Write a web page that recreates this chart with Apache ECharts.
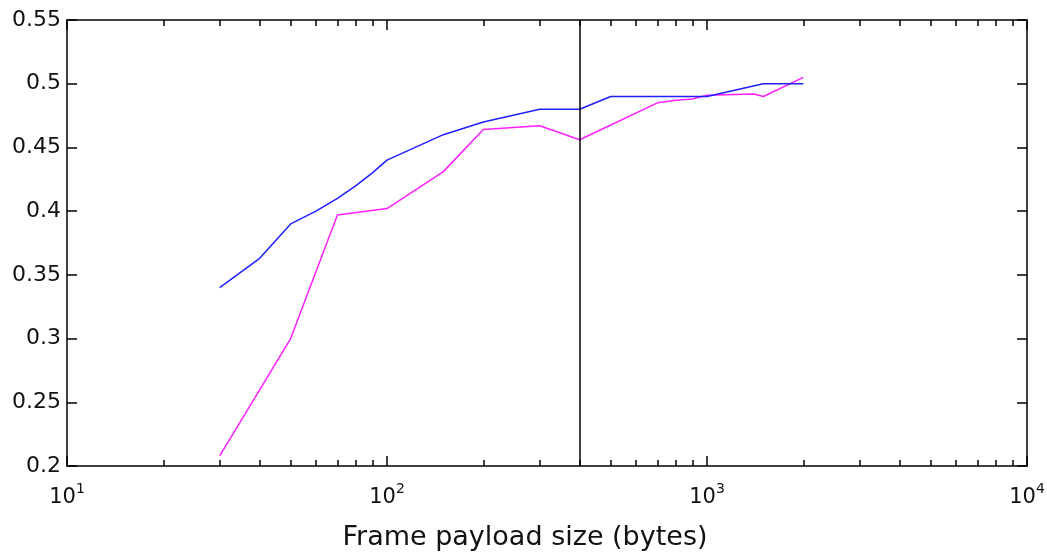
<!DOCTYPE html>
<html>
<head>
<meta charset="utf-8">
<script src="https://cdn.jsdelivr.net/npm/echarts@6/dist/echarts.min.js"></script>
<style>html,body{margin:0;padding:0;background:#fff}#c{width:1047px;height:552px}</style>
</head>
<body>
<div id="c"></div>
<script>
// ---- data ----
var blueX = [30, 40, 50, 60, 70, 80, 90, 100, 150, 200, 300, 400, 500, 1000, 1500, 2000];
var blueY = [0.34, 0.363, 0.39, 0.40, 0.41, 0.42, 0.43, 0.44, 0.46, 0.47, 0.48, 0.48, 0.49, 0.49, 0.50, 0.50];
var magentaX = [30, 50, 70, 100, 150, 200, 300, 400, 700, 800, 900, 1000, 1400, 1500, 2000];
var magentaY = [0.208, 0.30, 0.397, 0.402, 0.431, 0.464, 0.467, 0.456, 0.485, 0.487, 0.488, 0.491, 0.492, 0.49, 0.505];
var markerX = [400];
var xMajorTicks = [10, 100, 1000, 10000];
var xMinorTicks = [20, 30, 40, 50, 60, 70, 80, 90, 200, 300, 400, 500, 600, 700, 800, 900, 2000, 3000, 4000, 5000, 6000, 7000, 8000, 9000];
var yTicks = [0.2, 0.25, 0.3, 0.35, 0.4, 0.45, 0.5, 0.55];
var xName = 'Frame payload size (bytes)';

function zip(xs, ys) { return xs.map(function (x, i) { return [x, ys[i]]; }); }

var FONT = 'DejaVu Sans';
var chart = echarts.init(document.getElementById('c'), null, { renderer: 'canvas' });

function xAxisBase(pos, tickLen, custom, showLine) {
  return {
    type: 'log', logBase: 10, min: 10, max: 10000, position: pos,
    axisLine: { show: showLine, onZero: false, lineStyle: { color: '#000', width: 1.5 } },
    axisTick: { show: true, inside: true, length: tickLen, customValues: custom, lineStyle: { color: '#000', width: 1.5 } },
    axisLabel: { show: false },
    splitLine: { show: false },
    minorTick: { show: false }, minorSplitLine: { show: false }
  };
}

var xBottom = xAxisBase('bottom', 10, xMajorTicks, true);
xBottom.axisLabel = {
  show: true, margin: 16, customValues: xMajorTicks,
  formatter: function (v) {
    var e = Math.round(Math.log10(v));
    return '{b|10}{s|' + e + '}';
  },
  rich: {
    b: { fontFamily: FONT, fontSize: 21, color: '#111', lineHeight: 26, verticalAlign: 'bottom' },
    s: { fontFamily: FONT, fontSize: 14, color: '#111', lineHeight: 14, verticalAlign: 'top' }
  }
};
xBottom.name = xName;
xBottom.nameLocation = 'middle';
xBottom.nameGap = 58;
xBottom.nameTextStyle = { fontFamily: FONT, fontSize: 27, color: '#111', padding: [0, 44, 0, 0] };

var xTop = xAxisBase('top', 10, xMajorTicks, true);
var xBottomMinor = xAxisBase('bottom', 6, xMinorTicks, false);
var xTopMinor = xAxisBase('top', 6, xMinorTicks, false);

function yAxisBase(pos, showLabel) {
  return {
    type: 'value', min: 0.2, max: 0.55, interval: 0.05, position: pos,
    axisLine: { show: true, onZero: false, lineStyle: { color: '#000', width: 1.5 } },
    axisTick: { show: true, inside: true, length: 10, lineStyle: { color: '#000', width: 1.5 } },
    axisLabel: {
      show: showLabel, margin: 6, fontFamily: FONT, fontSize: 22, color: '#111',
      formatter: function (v) { return String(+v.toFixed(2)); }
    },
    splitLine: { show: false }
  };
}

chart.setOption({
  animation: false,
  backgroundColor: '#fff',
  grid: { left: 67, right: 20, top: 20, bottom: 86, containLabel: false, outerBoundsMode: 'none' },
  xAxis: [xBottom, xTop, xBottomMinor, xTopMinor],
  yAxis: [yAxisBase('left', true), yAxisBase('right', false)],
  series: [
    {
      type: 'line', xAxisIndex: 0, yAxisIndex: 0, data: zip(blueX, blueY),
      showSymbol: false, symbol: 'none', lineStyle: { color: '#1f1fff', width: 1.5 }, z: 3,
      markLine: {
        silent: true, symbol: ['none', 'none'], label: { show: false },
        lineStyle: { color: '#000', width: 1.5, type: 'solid' },
        data: markerX.map(function (x) { return { xAxis: x }; })
      }
    },
    {
      type: 'line', xAxisIndex: 0, yAxisIndex: 0, data: zip(magentaX, magentaY),
      showSymbol: false, symbol: 'none', lineStyle: { color: '#ff1fff', width: 1.5 }, z: 2
    }
  ]
});
</script>
</body>
</html>
